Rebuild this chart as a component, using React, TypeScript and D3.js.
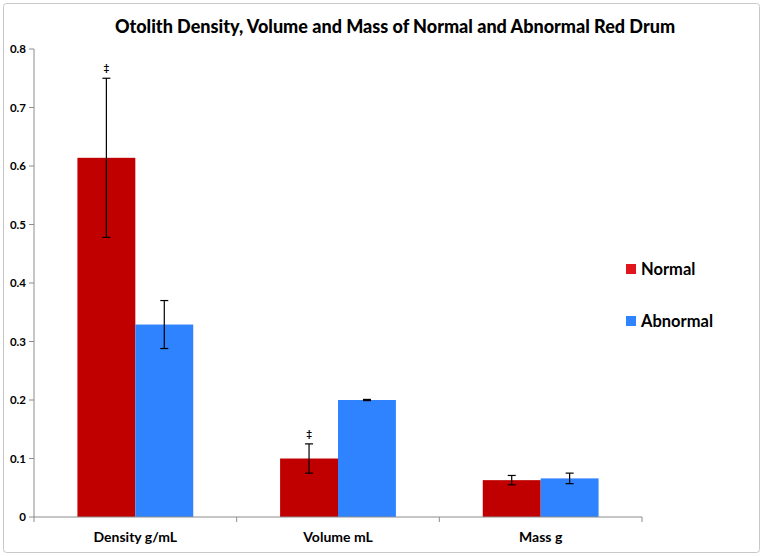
import React from "react";
import * as d3 from "d3";

const categories = ["Density g/mL", "Volume mL", "Mass g"];
const seriesNames = ["Normal", "Abnormal"];
const normalValues = [0.614, 0.1, 0.063];
const abnormalValues = [0.329, 0.2, 0.066];
const normalErrors = [0.136, 0.025, 0.008];
const abnormalErrors = [0.041, 0.001, 0.009];
const normalMarks = ["‡", "‡", ""];
const yTicks = [0, 0.1, 0.2, 0.3, 0.4, 0.5, 0.6, 0.7, 0.8];
const colors = ["#C00000", "#2F83FF"];
const legendColors = ["#E0161C", "#2F83FF"];

const W = 763;
const H = 556;
const left = 34;
const right = 642;
const top = 49;
const bottom = 517;

export default function App() {
  const x = d3.scaleBand<string>().domain(categories).range([left, right]).paddingInner(0).paddingOuter(0);
  const y = d3.scaleLinear().domain([0, 0.8]).range([bottom, top]);
  const bw = x.bandwidth() / 3.5;
  const sub = d3.scaleBand<string>().domain(seriesNames).range([0, bw * 2]);
  const series = [
    { name: "Normal", values: normalValues, errs: normalErrors, marks: normalMarks },
    { name: "Abnormal", values: abnormalValues, errs: abnormalErrors, marks: ["", "", ""] },
  ];
  const font = "Lato, 'Open Sans', sans-serif";
  return (
    <div style={{ position: "absolute", left: 0, top: 0 }}>
      <svg width={W} height={H} style={{ display: "block", fontFamily: font }}>
        <rect x={0} y={0} width={W} height={H} fill="#fff" />
        <rect x={3.5} y={3.5} width={W - 7} height={H - 7} fill="none" stroke="#c8c8c8" strokeWidth={1} rx={3} />
        <text x={395} y={33} textAnchor="middle" fontSize={18} fontWeight="900" fill="#000">
          Otolith Density, Volume and Mass of Normal and Abnormal Red Drum
        </text>
        {series.map((s, si) =>
          categories.map((c, ci) => {
            const bx = (x(c) as number) + bw * 0.75 + (sub(s.name) as number);
            const v = s.values[ci];
            const e = s.errs[ci];
            const cx = bx + bw / 2;
            return (
              <g key={s.name + c}>
                <rect x={bx} y={y(v)} width={bw} height={y(0) - y(v)} fill={colors[si]} />
                <line x1={cx} x2={cx} y1={y(v + e)} y2={y(v - e)} stroke="#000" strokeWidth={1.2} />
                <line x1={cx - 4} x2={cx + 4} y1={y(v + e)} y2={y(v + e)} stroke="#000" strokeWidth={1.2} />
                <line x1={cx - 4} x2={cx + 4} y1={y(v - e)} y2={y(v - e)} stroke="#000" strokeWidth={1.2} />
                {s.marks[ci] && (
                  <text x={cx} y={y(v + e) - 7} textAnchor="middle" fontSize={10} fontWeight="bold">
                    {s.marks[ci]}
                  </text>
                )}
              </g>
            );
          })
        )}
        <line x1={left} x2={left} y1={top} y2={bottom} stroke="#8c8c8c" />
        <line x1={left} x2={right} y1={bottom} y2={bottom} stroke="#8c8c8c" />
        {yTicks.map((t) => (
          <g key={t}>
            <line x1={left - 5} x2={left} y1={y(t)} y2={y(t)} stroke="#8c8c8c" />
            <text x={left - 8} y={y(t) + 4} textAnchor="end" fontSize={11.5} fontWeight="bold">
              {String(t)}
            </text>
          </g>
        ))}
        {[...categories.map((c) => x(c) as number), right].map((px, i) => (
          <line key={i} x1={px} x2={px} y1={bottom} y2={bottom + 5} stroke="#8c8c8c" />
        ))}
        {categories.map((c) => (
          <text key={c} x={(x(c) as number) + x.bandwidth() / 2} y={542} textAnchor="middle" fontSize={14} fontWeight="bold">
            {c}
          </text>
        ))}
        {seriesNames.map((n, i) => (
          <g key={n}>
            <rect x={626} y={264 + i * 52} width={10} height={10} fill={legendColors[i]} />
            <text x={641} y={275 + i * 52} fontSize={16.5} fontWeight="bold">
              {n}
            </text>
          </g>
        ))}
      </svg>
    </div>
  );
}
